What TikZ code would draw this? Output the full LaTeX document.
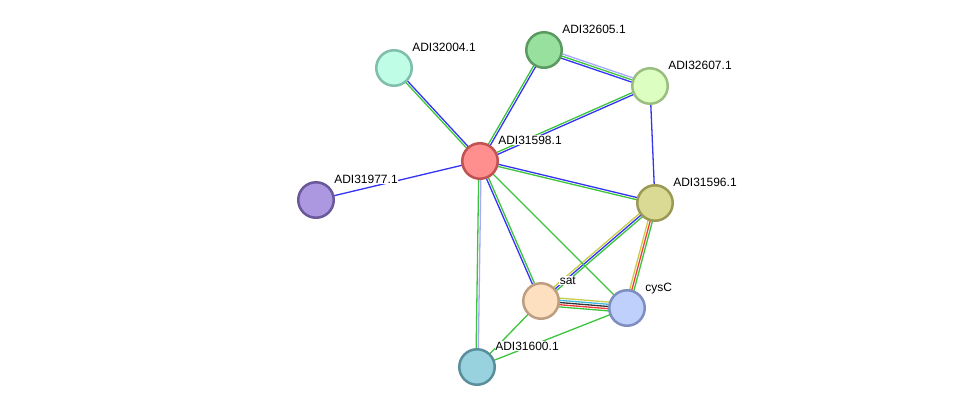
\documentclass[tikz,border=0pt]{standalone}
\usepackage{fontspec}
\setmainfont{Liberation Sans}
\usepackage{tikz}
\usetikzlibrary{calc}
\pgfdeclarelayer{background}
\pgfsetlayers{background,main}

\definecolor{cgreen}{HTML}{3CC43C}
\definecolor{cblue}{HTML}{3333F5}
\definecolor{clav}{HTML}{A8A8FF}
\definecolor{cyel}{HTML}{C8CC48}
\definecolor{cred}{HTML}{F23A3A}
\definecolor{ccyan}{HTML}{3CB8E0}
\definecolor{cblack}{HTML}{333333}

\begin{document}
\begin{tikzpicture}[x=1pt, y=-1pt]
\tikzstyle{prot}=[circle, minimum size=35.5pt, inner sep=0pt, line width=2.5pt]
\tikzstyle{lbl}=[anchor=base west, inner sep=0.6pt, fill=white, font=\fontsize{12}{14}\selectfont]
\useasboundingbox (0,0) rectangle (975,413);

% proteins
\node[prot, draw={rgb,255:red,192;green,82;blue,82}, fill={rgb,255:red,255;green,143;blue,143}] (a598) at (480,161) {};
\node[prot, draw={rgb,255:red,126;green,190;blue,170}, fill={rgb,255:red,192;green,253;blue,230}] (a004) at (394,68) {};
\node[prot, draw={rgb,255:red,90;green,154;blue,96}, fill={rgb,255:red,152;green,224;blue,158}] (a605) at (544,50) {};
\node[prot, draw={rgb,255:red,154;green,190;blue,128}, fill={rgb,255:red,220;green,254;blue,192}] (a607) at (650,86) {};
\node[prot, draw={rgb,255:red,106;green,88;blue,154}, fill={rgb,255:red,171;green,152;blue,224}] (a977) at (316,200) {};
\node[prot, draw={rgb,255:red,154;green,154;blue,84}, fill={rgb,255:red,218;green,218;blue,148}] (a596) at (655,203) {};
\node[prot, draw={rgb,255:red,190;green,158;blue,128}, fill={rgb,255:red,253;green,224;blue,192}] (sat) at (541,301) {};
\node[prot, draw={rgb,255:red,126;green,142;blue,190}, fill={rgb,255:red,192;green,208;blue,253}] (cysC) at (627,308) {};
\node[prot, draw={rgb,255:red,90;green,142;blue,154}, fill={rgb,255:red,152;green,210;blue,223}] (a600) at (477,367) {};

% labels
\node[lbl] (l598) at ([shift={(17.5,-17)}]a598) {ADI31598.1};
\node[lbl] (l004) at ([shift={(17.5,-17)}]a004) {ADI32004.1};
\node[lbl] (l605) at ([shift={(17.5,-17)}]a605) {ADI32605.1};
\node[lbl] (l607) at ([shift={(17.5,-17)}]a607) {ADI32607.1};
\node[lbl] (l977) at ([shift={(17.5,-17)}]a977) {ADI31977.1};
\node[lbl] (l596) at ([shift={(17.5,-17)}]a596) {ADI31596.1};
\node[lbl] (lsat) at ([shift={(18,-17)}]sat) {sat};
\node[lbl] (lcys) at ([shift={(17.5,-17)}]cysC) {cysC};
\node[lbl] (l600) at ([shift={(17.5,-17)}]a600) {ADI31600.1};

% interactions
\begin{pgfonlayer}{background}
\foreach \s/\t/\c/\o in {
  a598/a004/cgreen/1.1, a598/a004/cblue/-1.1,
  a598/a605/cgreen/1.1, a598/a605/cblue/-1.1,
  a598/a607/cgreen/1.1, a598/a607/cblue/-1.1,
  a605/a607/clav/2.2, a605/a607/cgreen/0, a605/a607/cblue/-2.2,
  a598/a596/cblue/1.1, a598/a596/cgreen/-1.1,
  a598/sat/cgreen/1.1, a598/sat/cblue/-1.1,
  a598/a600/clav/1.1, a598/a600/cgreen/-1.1,
  a596/sat/cyel/-2.2, a596/sat/cblue/0, a596/sat/cgreen/2.2,
  a596/cysC/cyel/-2.2, a596/cysC/cred/0, a596/cysC/cgreen/2.2,
  sat/cysC/cyel/4.4, sat/cysC/ccyan/2.2, sat/cysC/cblack/0, sat/cysC/cred/-2.2, sat/cysC/cgreen/-4.4,
  a598/a977/cblue/0, a607/a596/cblue/0, a598/cysC/cgreen/0,
  sat/a600/cgreen/0, cysC/a600/cgreen/0}
  \draw[\c, line width=1.3pt] ($(\s)!\o pt!90:(\t)$) -- ($(\t)!\o pt!-90:(\s)$);
\end{pgfonlayer}
\end{tikzpicture}
\end{document}
